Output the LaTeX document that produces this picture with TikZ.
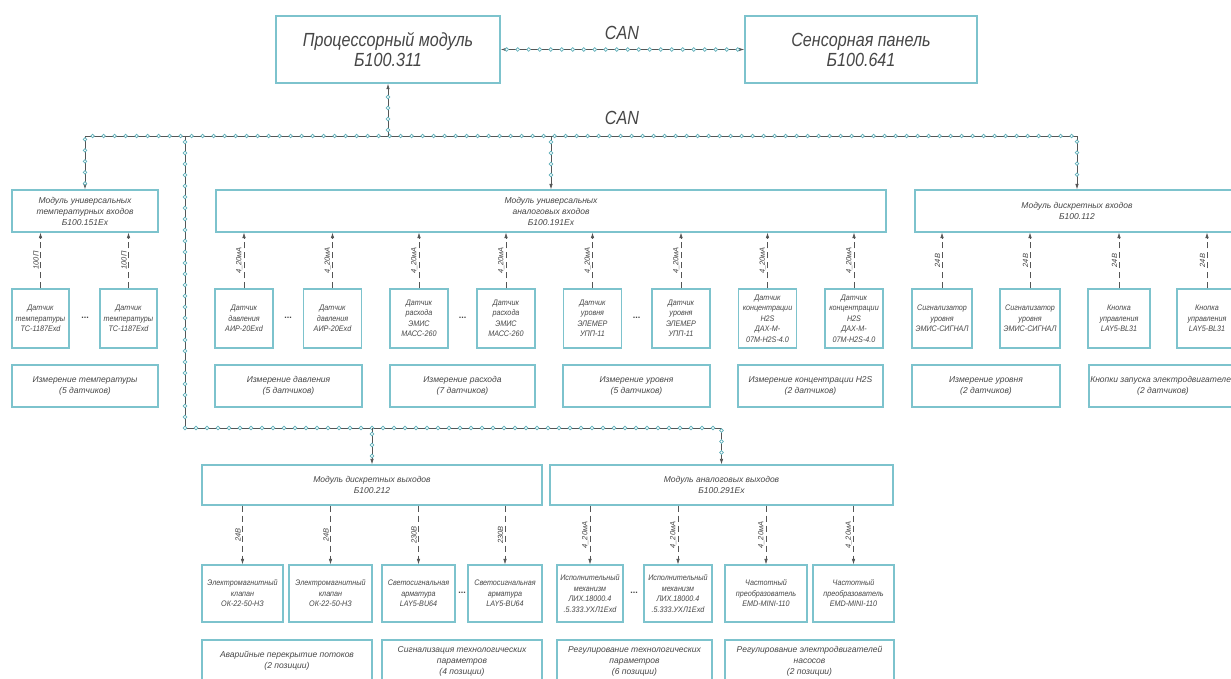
\documentclass[tikz,border=0pt]{standalone}
\usepackage{fontspec}
\setmainfont{Liberation Sans}
\newfontfamily\gostbig{Liberation Sans}[FakeStretch=0.85]
\newfontfamily\gostsmall{Liberation Sans}[FakeStretch=0.9]
\usetikzlibrary{arrows.meta,decorations.markings}
\definecolor{boxline}{RGB}{125,195,205}
\definecolor{busdot}{RGB}{95,175,185}
\definecolor{wire}{RGB}{85,85,85}
\definecolor{ink}{RGB}{70,70,70}

\begin{document}
\begin{tikzpicture}[x=1pt,y=-1pt,
  >={Latex[length=5.5pt,width=3.5pt]},
  unit/.style={draw=boxline, line width=1.2pt, fill=white, inner sep=0pt, align=center, text=ink, font=\itshape\fontsize{8.5}{11}\selectfont},
  mainunit/.style={unit, line width=1.4pt, font=\gostbig\itshape\fontsize{19}{20}\selectfont},
  dev/.style={unit, font=\gostsmall\itshape\fontsize{8}{10.5}\selectfont},
  sig/.style={draw=wire, line width=0.6pt, dash pattern=on 6pt off 4pt, ->},
  sigtext/.style={midway, rotate=90, anchor=south, inner sep=1.5pt, text=ink, font=\itshape\fontsize{7.5}{9}\selectfont},
  canbus/.style={draw=wire, line width=0.7pt, postaction={decorate}, decoration={markings, mark=between positions 6pt and -6pt step 11pt with {\draw[busdot, line width=0.7pt, fill=white] (0,0) circle (1.8pt);}}},
  cantext/.style={text=ink, font=\gostbig\itshape\fontsize{19}{20}\selectfont},
  more/.style={text=ink, font=\bfseries\fontsize{9}{9}\selectfont}
]
\fill[white] (0,0) rectangle (1231,679);
\useasboundingbox (0,0) rectangle (1231,679);

\node[mainunit, minimum width=224pt, minimum height=67pt] at (388,49.5)(cpu){Процессорный модуль\\Б100.311};
\node[mainunit, minimum width=232pt, minimum height=67pt] at (861,49.5)(panel){Сенсорная панель\\Б100.641};
\draw[canbus, <->] (cpu.east) -- (panel.west);
\node[cantext] at (622,33)(can1){CAN};

\coordinate (busL) at (85,136);
\coordinate (busR) at (1077,136);
\coordinate (busD) at (185,136);
\coordinate (busB) at (185,428);
\node[cantext] at (622,118)(can2){CAN};

% входные модули
\node[unit, minimum width=146pt, minimum height=42pt] at (85,211)(tin){Модуль универсальных\\температурных входов\\Б100.151Ex};
\node[unit, minimum width=670pt, minimum height=42pt] at (551,211)(ain){Модуль универсальных\\аналоговых входов\\Б100.191Ex};
\node[unit, minimum width=324pt, minimum height=42pt] at (1077,211)(din){Модуль дискретных входов\\Б100.112};

% выходные модули
\node[unit, minimum width=340pt, minimum height=40pt] at (372,485)(dout){Модуль дискретных выходов\\Б100.212};
\node[unit, minimum width=343pt, minimum height=40pt] at (721.5,485)(aout){Модуль аналоговых выходов\\Б100.291Ex};

\draw[canbus, <->] (tin.north) -- (busL) -- (busR) -- (din.north);
\draw[canbus, ->] (busL -| cpu.south) -- (cpu.south);
\draw[canbus, ->] (busL -| ain.north) -- (ain.north);
\draw[canbus, ->] (busD) -- (busB) -| (aout.north);
\draw[canbus, ->] (busB -| dout.north) -- (dout.north);

% датчики температуры
\node[dev, minimum width=57pt, minimum height=59pt] at (40.5,318.5)(t1){Датчик\\температуры\\ТС-1187Exd};
\node[dev, minimum width=57pt, minimum height=59pt] at (128.5,318.5)(t2){Датчик\\температуры\\ТС-1187Exd};
\node[more] at (85,318)(tdots){...};
\draw[sig] (t1.north) -- (t1.north |- tin.south) node[sigtext]{100П};
\draw[sig] (t2.north) -- (t2.north |- tin.south) node[sigtext]{100П};

% аналоговые датчики
\node[dev, minimum width=58pt, minimum height=59pt] at (244,318.5)(a1){Датчик\\давления\\АИР-20Exd};
\node[dev, minimum width=58pt, minimum height=59pt] at (332.5,318.5)(a2){Датчик\\давления\\АИР-20Exd};
\node[dev, minimum width=58pt, minimum height=59pt] at (419,318.5)(a3){Датчик\\расхода\\ЭМИС\\МАСС-260};
\node[dev, minimum width=58pt, minimum height=59pt] at (506,318.5)(a4){Датчик\\расхода\\ЭМИС\\МАСС-260};
\node[dev, minimum width=58pt, minimum height=59pt] at (592.5,318.5)(a5){Датчик\\уровня\\ЭЛЕМЕР\\УПП-11};
\node[dev, minimum width=58pt, minimum height=59pt] at (681,318.5)(a6){Датчик\\уровня\\ЭЛЕМЕР\\УПП-11};
\node[dev, minimum width=58pt, minimum height=59pt] at (767.5,318.5)(a7){Датчик\\концентрации\\H2S\\ДАХ-М-\\07М-H2S-4.0};
\node[dev, minimum width=58pt, minimum height=59pt] at (854,318.5)(a8){Датчик\\концентрации\\H2S\\ДАХ-М-\\07М-H2S-4.0};
\node[more] at (288,318)(adots1){...};
\node[more] at (462.5,318)(adots2){...};
\node[more] at (636.5,318)(adots3){...};
\draw[sig] (a1.north) -- (a1.north |- ain.south) node[sigtext]{4\_20мА};
\draw[sig] (a2.north) -- (a2.north |- ain.south) node[sigtext]{4\_20мА};
\draw[sig] (a3.north) -- (a3.north |- ain.south) node[sigtext]{4\_20мА};
\draw[sig] (a4.north) -- (a4.north |- ain.south) node[sigtext]{4\_20мА};
\draw[sig] (a5.north) -- (a5.north |- ain.south) node[sigtext]{4\_20мА};
\draw[sig] (a6.north) -- (a6.north |- ain.south) node[sigtext]{4\_20мА};
\draw[sig] (a7.north) -- (a7.north |- ain.south) node[sigtext]{4\_20мА};
\draw[sig] (a8.north) -- (a8.north |- ain.south) node[sigtext]{4\_20мА};

% дискретные датчики
\node[dev, minimum width=60pt, minimum height=59pt] at (942,318.5)(d1){Сигнализатор\\уровня\\ЭМИС-СИГНАЛ};
\node[dev, minimum width=60pt, minimum height=59pt] at (1030,318.5)(d2){Сигнализатор\\уровня\\ЭМИС-СИГНАЛ};
\node[dev, minimum width=62pt, minimum height=59pt] at (1119,318.5)(d3){Кнопка\\управления\\LAY5-BL31};
\node[dev, minimum width=60pt, minimum height=59pt] at (1207,318.5)(d4){Кнопка\\управления\\LAY5-BL31};
\draw[sig] (d1.north) -- (d1.north |- din.south) node[sigtext]{24В};
\draw[sig] (d2.north) -- (d2.north |- din.south) node[sigtext]{24В};
\draw[sig] (d3.north) -- (d3.north |- din.south) node[sigtext]{24В};
\draw[sig] (d4.north) -- (d4.north |- din.south) node[sigtext]{24В};

% назначение входов
\node[unit, minimum width=146pt, minimum height=42pt] at (85,386)(r1){Измерение температуры\\(5 датчиков)};
\node[unit, minimum width=147pt, minimum height=42pt] at (288.5,386)(r2){Измерение давления\\(5 датчиков)};
\node[unit, minimum width=145pt, minimum height=42pt] at (462.5,386)(r3){Измерение расхода\\(7 датчиков)};
\node[unit, minimum width=147pt, minimum height=42pt] at (636.5,386)(r4){Измерение уровня\\(5 датчиков)};
\node[unit, minimum width=145pt, minimum height=42pt] at (810.5,386)(r5){Измерение концентрации H2S\\(2 датчиков)};
\node[unit, minimum width=148pt, minimum height=42pt] at (986,386)(r6){Измерение уровня\\(2 датчиков)};
\node[unit, minimum width=148pt, minimum height=42pt] at (1163,386)(r7){Кнопки запуска электродвигателей\\(2 датчиков)};

% исполнительные устройства
\node[dev, minimum width=81pt, minimum height=57pt] at (242.5,593.5)(o1){Электромагнитный\\клапан\\ОК-22-50-НЗ};
\node[dev, minimum width=83pt, minimum height=57pt] at (330.5,593.5)(o2){Электромагнитный\\клапан\\ОК-22-50-НЗ};
\node[dev, minimum width=73pt, minimum height=57pt] at (418.5,593.5)(o3){Светосигнальная\\арматура\\LAY5-BU64};
\node[dev, minimum width=74pt, minimum height=57pt] at (505,593.5)(o4){Светосигнальная\\арматура\\LAY5-BU64};
\node[dev, minimum width=66pt, minimum height=57pt] at (590,593.5)(o5){Исполнительный\\механизм\\ЛИХ.18000.4\\.5.333.УХЛ1Exd};
\node[dev, minimum width=68pt, minimum height=57pt] at (678,593.5)(o6){Исполнительный\\механизм\\ЛИХ.18000.4\\.5.333.УХЛ1Exd};
\node[dev, minimum width=82pt, minimum height=57pt] at (766,593.5)(o7){Частотный\\преобразователь\\EMD-MINI-110};
\node[dev, minimum width=81pt, minimum height=57pt] at (853.5,593.5)(o8){Частотный\\преобразователь\\EMD-MINI-110};
\node[more] at (462,593)(odots1){...};
\node[more] at (634,593)(odots2){...};
\draw[sig] (o1.north |- dout.south) -- (o1.north) node[sigtext]{24В};
\draw[sig] (o2.north |- dout.south) -- (o2.north) node[sigtext]{24В};
\draw[sig] (o3.north |- dout.south) -- (o3.north) node[sigtext]{230В};
\draw[sig] (o4.north |- dout.south) -- (o4.north) node[sigtext]{230В};
\draw[sig] (o5.north |- aout.south) -- (o5.north) node[sigtext]{4\_20мА};
\draw[sig] (o6.north |- aout.south) -- (o6.north) node[sigtext]{4\_20мА};
\draw[sig] (o7.north |- aout.south) -- (o7.north) node[sigtext]{4\_20мА};
\draw[sig] (o8.north |- aout.south) -- (o8.north) node[sigtext]{4\_20мА};

% назначение выходов
\node[unit, minimum width=170pt, minimum height=42pt] at (287,661)(p1){Аварийные перекрытие потоков\\(2 позиции)};
\node[unit, minimum width=160pt, minimum height=42pt] at (462,661)(p2){Сигнализация технологических\\параметров\\(4 позиции)};
\node[unit, minimum width=155pt, minimum height=42pt] at (634.5,661)(p3){Регулирование технологических\\параметров\\(6 позиции)};
\node[unit, minimum width=169pt, minimum height=42pt] at (809.5,661)(p4){Регулирование электродвигателей\\насосов\\(2 позиции)};
\end{tikzpicture}
\end{document}
